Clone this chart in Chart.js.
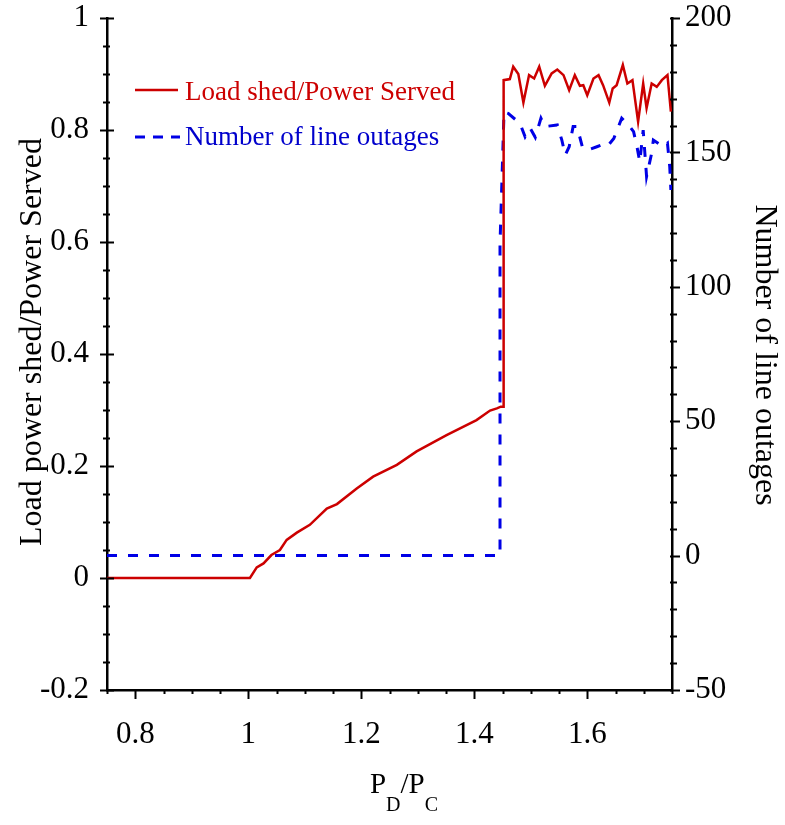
<!DOCTYPE html>
<html>
<head>
<meta charset="utf-8">
<script src="https://cdn.jsdelivr.net/npm/chart.js@4"></script>
<style>
  html, body { margin: 0; padding: 0; background: #fff; }
  #wrap { width: 785px; height: 825px; }
</style>
</head>
<body>
<div id="wrap"><canvas id="myChart" width="785" height="825"></canvas></div>
<script>
// load shed ratio (left axis)
var shedX = [0.75, 1.0, 1.003, 1.015, 1.027, 1.041, 1.056, 1.068, 1.086, 1.109, 1.139, 1.157, 1.192, 1.221, 1.263, 1.298, 1.351, 1.404, 1.428, 1.440, 1.447, 1.451, 1.452,
  1.463, 1.469, 1.478, 1.487, 1.497, 1.506, 1.515, 1.525, 1.537, 1.547, 1.558, 1.568, 1.578, 1.587, 1.593, 1.600, 1.611, 1.620, 1.628,
  1.639, 1.645, 1.652, 1.663, 1.671, 1.680, 1.690, 1.699, 1.705, 1.714, 1.723, 1.732, 1.742, 1.748];
var shedY = [0, 0, 0, 0.019, 0.026, 0.041, 0.050, 0.068, 0.081, 0.095, 0.124, 0.132, 0.160, 0.181, 0.202, 0.226, 0.255, 0.282, 0.299, 0.303, 0.306, 0.306, 0.889,
  0.891, 0.913, 0.900, 0.849, 0.898, 0.892, 0.913, 0.879, 0.901, 0.908, 0.898, 0.871, 0.898, 0.879, 0.880, 0.862, 0.892, 0.898, 0.880,
  0.849, 0.874, 0.880, 0.916, 0.883, 0.889, 0.815, 0.883, 0.839, 0.883, 0.877, 0.889, 0.898, 0.833];

// number of line outages (right axis)
var outX = [0.75, 1.4456, 1.4456, 1.4527, 1.460, 1.481, 1.490, 1.499, 1.508, 1.518, 1.525, 1.547, 1.555, 1.561, 1.568, 1.575, 1.582,
  1.592, 1.601, 1.617, 1.626, 1.635, 1.647, 1.661, 1.673, 1.682, 1.688, 1.693, 1.699, 1.705, 1.714, 1.717, 1.735, 1.742, 1.746, 1.748];
var outY = [0, 0, 116, 165, 164.5, 160.8, 155.8, 159, 155.6, 162.7, 159.6, 160.2, 154.6, 149, 152.1, 159.6, 159.6,
  151.5, 150.9, 152.1, 152.8, 152.1, 155.2, 162.7, 160.2, 157.7, 152.1, 146.5, 158.3, 141, 149.7, 154.6, 152.1, 153.4, 144.7, 136];

// tick labels
var xTickVals = [0.8, 1.0, 1.2, 1.4, 1.6];
var leftTickVals = [-0.2, 0, 0.2, 0.4, 0.6, 0.8, 1.0];
var rightTickVals = [-50, 0, 50, 100, 150, 200];

var xTicks = { min: 0.75, max: 1.75, major: 0.2, minor: 0.05 };
var leftTicks = { min: -0.2, max: 1, major: 0.2, minor: 0.05 };
var rightTicks = { min: -50, max: 200, major: 50, minor: 10 };

var seriesNames = ['Load shed/Power Served', 'Number of line outages'];
var redColor = '#CC0000';
var blueColor = '#0000E6';
var serif = "'Liberation Serif', 'Times New Roman', serif";

function pts(xs, ys) {
    var out = [];
    for (var i = 0; i < xs.length; i++) out.push({ x: xs[i], y: ys[i] });
    return out;
}

function fmt(v) { return String(+v.toFixed(2)); }

function fixedTicks(vals) {
    return function(s) { s.ticks = vals.map(function(v) { return { value: v }; }); };
}

// tick marks, with minor ticks
var tickMarks = {
    id: 'tickMarks',
    afterDraw: function(chart) {
        var ctx = chart.ctx, a = chart.chartArea;
        ctx.save();
        ctx.strokeStyle = '#000';
        ctx.lineWidth = 2;
        var sx = chart.scales.x, sl = chart.scales.y, sr = chart.scales.y2;
        var n, v, p, big;
        n = Math.round((xTicks.max - xTicks.min) / xTicks.minor);
        for (var i = 0; i <= n; i++) {
            v = xTicks.min + i * xTicks.minor;
            big = Math.abs(v / xTicks.major - Math.round(v / xTicks.major)) < 1e-6;
            p = Math.round(sx.getPixelForValue(v)) + 0.5;
            ctx.beginPath(); ctx.moveTo(p, a.bottom); ctx.lineTo(p, a.bottom + (big ? 9 : 4)); ctx.stroke();
        }
        n = Math.round((leftTicks.max - leftTicks.min) / leftTicks.minor);
        for (var j = 0; j <= n; j++) {
            v = leftTicks.min + j * leftTicks.minor;
            big = Math.abs(v / leftTicks.major - Math.round(v / leftTicks.major)) < 1e-6;
            p = Math.round(sl.getPixelForValue(v)) + 0.5;
            ctx.beginPath(); ctx.moveTo(a.left - (big ? 7 : 4), p); ctx.lineTo(a.left + (big ? 7 : 3), p); ctx.stroke();
        }
        n = Math.round((rightTicks.max - rightTicks.min) / rightTicks.minor);
        for (var k = 0; k <= n; k++) {
            v = rightTicks.min + k * rightTicks.minor;
            big = v % rightTicks.major === 0;
            p = Math.round(sr.getPixelForValue(v)) + 0.5;
            ctx.beginPath(); ctx.moveTo(a.right - 2, p); ctx.lineTo(a.right + (big ? 8 : 5), p); ctx.stroke();
        }
        ctx.restore();
    }
};

// legend inside the plot, axis titles with subscripts
var textBits = {
    id: 'textBits',
    afterDraw: function(chart) {
        var ctx = chart.ctx;
        ctx.save();
        // legend
        ctx.lineWidth = 2.5;
        ctx.strokeStyle = redColor;
        ctx.beginPath(); ctx.moveTo(135, 90); ctx.lineTo(178, 90); ctx.stroke();
        ctx.strokeStyle = blueColor;
        ctx.lineWidth = 3;
        ctx.setLineDash([10, 8]);
        ctx.beginPath(); ctx.moveTo(135, 137); ctx.lineTo(180, 137); ctx.stroke();
        ctx.setLineDash([]);
        ctx.font = '27px ' + serif;
        ctx.textBaseline = 'alphabetic';
        ctx.textAlign = 'left';
        ctx.fillStyle = redColor;
        ctx.fillText(seriesNames[0], 185, 100);
        ctx.fillStyle = '#0000CC';
        ctx.fillText(seriesNames[1], 185, 145);

        // y titles
        ctx.fillStyle = '#000';
        ctx.font = '32px ' + serif;
        ctx.textAlign = 'center';
        ctx.textBaseline = 'middle';
        ctx.save();
        ctx.translate(33, 342);
        ctx.rotate(-Math.PI / 2);
        ctx.fillText('Load power shed/Power Served', 0, 0);
        ctx.restore();
        ctx.save();
        ctx.translate(764, 355);
        ctx.rotate(Math.PI / 2);
        ctx.fillText('Number of line outages', 0, 0);
        ctx.restore();

        // x title P_D/P_C
        ctx.textAlign = 'left';
        ctx.textBaseline = 'alphabetic';
        var parts = [['P', 29, 0], ['D', 20, 18], ['/P', 29, 0], ['C', 20, 18]];
        var w = 0, q;
        for (q = 0; q < parts.length; q++) {
            ctx.font = parts[q][1] + 'px ' + serif;
            w += ctx.measureText(parts[q][0]).width;
        }
        var x0 = 404 - w / 2, base = 793;
        for (q = 0; q < parts.length; q++) {
            ctx.font = parts[q][1] + 'px ' + serif;
            ctx.fillText(parts[q][0], x0, base + parts[q][2]);
            x0 += ctx.measureText(parts[q][0]).width;
        }
        ctx.restore();
    }
};

var tickFont = { family: serif, size: 31 };

var ctx = document.getElementById('myChart');
var myChart = new Chart(ctx, {
    type: 'line',
    data: {
        datasets: [{
            label: seriesNames[0],
            data: pts(shedX, shedY),
            yAxisID: 'y',
            borderColor: redColor,
            borderWidth: 2.5,
            pointRadius: 0,
            tension: 0,
            fill: false
        }, {
            label: seriesNames[1],
            data: pts(outX, outY),
            yAxisID: 'y2',
            borderColor: blueColor,
            borderWidth: 3,
            borderDash: [10, 11],
            pointRadius: 0,
            tension: 0,
            fill: false
        }]
    },
    options: {
        responsive: false,
        animation: false,
        layout: { padding: { top: 18, left: 0, right: 0, bottom: 0 } },
        plugins: {
            legend: { display: false },
            tooltip: { enabled: false }
        },
        scales: {
            x: {
                type: 'linear',
                min: xTicks.min,
                max: xTicks.max,
                grid: { display: false, drawTicks: false },
                border: { display: true, color: '#000', width: 2.5 },
                ticks: {
                    color: '#000',
                    padding: 26,
                    maxRotation: 0,
                    autoSkip: false,
                    font: tickFont,
                    callback: function(v) { return fmt(v); }
                },
                afterBuildTicks: fixedTicks(xTickVals),
                afterFit: function(s) { s.height = 135; s.paddingLeft = 0; s.paddingRight = 0; }
            },
            y: {
                position: 'left',
                min: leftTicks.min,
                max: leftTicks.max,
                grid: { display: false, drawTicks: false },
                border: { display: true, color: '#000', width: 2.5 },
                ticks: {
                    color: '#000',
                    padding: 18,
                    autoSkip: false,
                    font: tickFont,
                    callback: function(v) { return fmt(v); }
                },
                afterBuildTicks: fixedTicks(leftTickVals),
                afterFit: function(s) { s.width = 107; s.paddingTop = 0; s.paddingBottom = 0; }
            },
            y2: {
                position: 'right',
                min: rightTicks.min,
                max: rightTicks.max,
                grid: { display: false, drawTicks: false },
                border: { display: true, color: '#000', width: 2.5 },
                ticks: {
                    color: '#000',
                    padding: 13,
                    autoSkip: false,
                    font: tickFont,
                    callback: function(v) { return fmt(v); }
                },
                afterBuildTicks: fixedTicks(rightTickVals),
                afterFit: function(s) { s.width = 113; s.paddingTop = 0; s.paddingBottom = 0; }
            }
        }
    },
    plugins: [tickMarks, textBits]
});
</script>
</body>
</html>
